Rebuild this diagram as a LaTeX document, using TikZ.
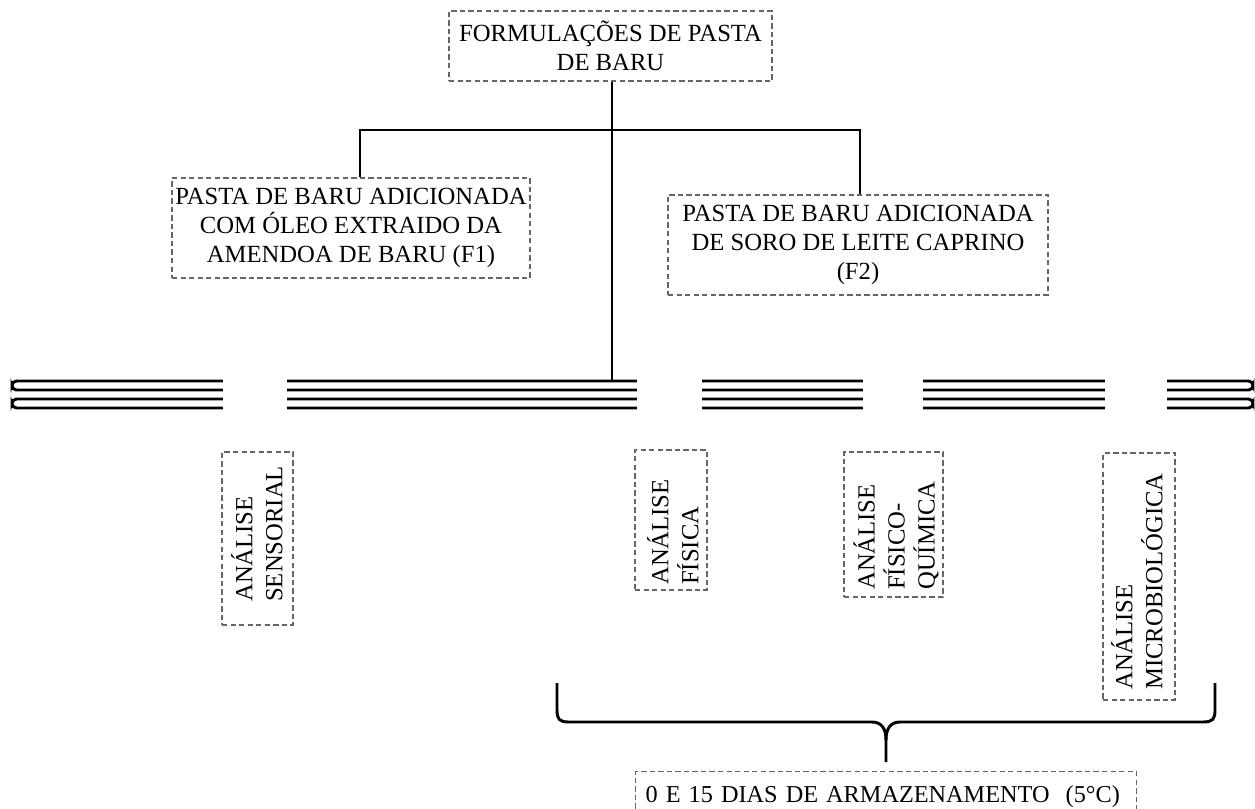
\documentclass[tikz,border=0pt]{standalone}
\usepackage{fontspec}
\setmainfont{Liberation Serif}
\begin{document}
\begin{tikzpicture}[x=0.75pt,y=-0.75pt,
  box/.style={draw=black!60, line width=0.9pt, dash pattern=on 4pt off 2.4pt, inner sep=0pt, fill=none},
  txt/.style={font=\fontsize{18.5}{21.75}\selectfont, align=center, inner sep=0pt},
  vtxt/.style={font=\fontsize{18.5}{22.5}\selectfont, align=left, rotate=90, anchor=west, inner sep=0pt},
  conn/.style={line width=2.2pt},
  bar/.style={line width=2.2pt, rounded corners=3.4pt},
  gap/.style={fill=white, draw=none}]
\useasboundingbox (0,0) rectangle (1255,809);

% top box
\node[box, txt, minimum width=242.25pt, minimum height=52.5pt] (top) at (610.5,46)
  {FORMULAÇÕES DE PASTA\\DE BARU};

% formulation boxes
\node[box, txt, minimum width=268.5pt, minimum height=75pt] (f1) at (351,228)
  {PASTA DE BARU ADICIONADA\\COM ÓLEO EXTRAIDO DA\\AMENDOA DE BARU (F1)};
\node[box, txt, minimum width=285pt, minimum height=75pt] (f2) at (858,245)
  {PASTA DE BARU ADICIONADA\\DE SORO DE LEITE CAPRINO\\(F2)};

% bars
\draw[bar] (12,381) rectangle (1253,390);
\draw[bar] (12,399) rectangle (1253,408);
\fill[gap] (223,374) rectangle (287,415);
\fill[gap] (637,374) rectangle (702,415);
\fill[gap] (863,374) rectangle (923,415);
\fill[gap] (1105,374) rectangle (1167,415);

% connectors
\coordinate (busTop) at (612,381);
\coordinate (jl) at (360,130);
\coordinate (jr) at (860,130);
\draw[conn] (top.south -| busTop) -- (busTop);
\draw[conn] (jl |- f1.north) -- (jl) -- (jr) -- (jr |- f2.north);

% analysis boxes
\node[box, minimum width=53.25pt, minimum height=129.75pt] (sens) at (257.5,538.5) {};
\node[vtxt] (senst) at (257,602) {ANÁLISE\\SENSORIAL};
\node[box, minimum width=54pt, minimum height=105pt] (fis) at (671,520) {};
\node[vtxt] (fist) at (673,585) {ANÁLISE\\FÍSICA};
\node[box, minimum width=74.25pt, minimum height=108.75pt] (fq) at (893.5,524.5) {};
\node[vtxt] (fqt) at (896,590) {ANÁLISE\\FÍSICO-\\QUÍMICA};
\node[box, minimum width=54pt, minimum height=185.25pt] (mic) at (1139,576.5) {};
\node[vtxt] (mict) at (1137,690) {ANÁLISE\\MICROBIOLÓGICA};

% brace
\coordinate (bl) at (557,683);
\coordinate (br) at (1215,683);
\coordinate (tip) at (886,762);
\draw[conn, line join=round] (bl) -- ++(0,27) .. controls +(0,9) and +(-10,0) .. ++(12,12) -- (872,722)
  .. controls (881,722) and (886,728) .. (886,740) -- (tip);
\draw[conn, line join=round] (br) -- ++(0,27) .. controls +(0,9) and +(10,0) .. ++(-12,12) -- (900,722)
  .. controls (891,722) and (886,728) .. (886,740);

% bottom box
\node[box, anchor=north west, font=\fontsize{18.2}{21.75}\selectfont, align=left,
      text width=360.75pt, inner xsep=7.5pt, minimum height=37.5pt, text height=13pt] (days) at (635,771)
  {0 E 15 DIAS DE ARMAZENAMENTO~~(5°C)};
\end{tikzpicture}
\end{document}
